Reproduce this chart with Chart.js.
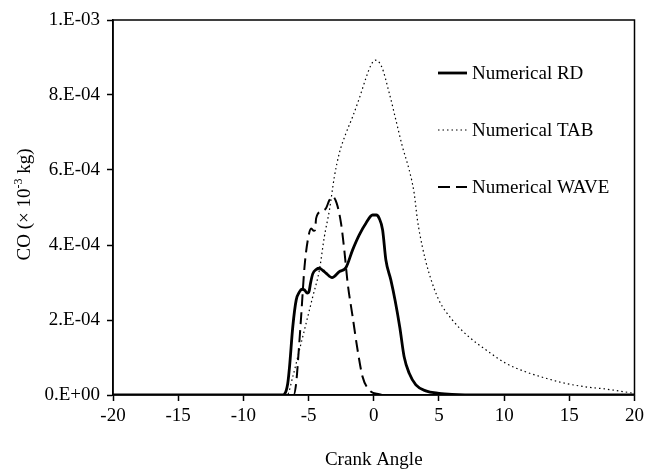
<!DOCTYPE html>
<html>
<head>
<meta charset="utf-8">
<script src="https://cdn.jsdelivr.net/npm/chart.js@4.4.1/dist/chart.umd.min.js"></script>
<style>
  html, body { margin: 0; padding: 0; background: #fff; }
  #wrap { width: 648px; height: 470px; position: relative; }
</style>
</head>
<body>
<div id="wrap"><canvas id="coChart"></canvas></div>
<script>
// ---- data (CO mass, kg, vs crank angle) ----
const rdAngle = [-20, -7, -6.85, -6.6, -6.46, -6.21, -5.95, -5.7, -5.5, -5.31, -5.1, -4.95, -4.85, -4.68, -4.4, -4.17, -3.9, -3.66, -3.2, -2.64, -2.13, -1.62, -1.11, -0.6, -0.09, 0.2, 0.42, 0.68, 0.93, 1.31, 1.65, 2.0, 2.33, 2.72, 3.23, 3.99, 5, 6, 7, 20];
const rdCO = [0, 0, 0.02e-4, 0.3e-4, 0.75e-4, 1.82e-4, 2.53e-4, 2.75e-4, 2.82e-4, 2.8e-4, 2.72e-4, 2.78e-4, 2.98e-4, 3.23e-4, 3.35e-4, 3.38e-4, 3.32e-4, 3.25e-4, 3.13e-4, 3.29e-4, 3.4e-4, 3.87e-4, 4.27e-4, 4.58e-4, 4.8e-4, 4.8e-4, 4.71e-4, 4.4e-4, 3.6e-4, 3.07e-4, 2.5e-4, 1.8e-4, 1.02e-4, 0.58e-4, 0.27e-4, 0.11e-4, 0.045e-4, 0.015e-4, 0.005e-4, 0];

const tabAngle = [-20, -6.65, -6.21, -5.7, -5.19, -4.68, -4.17, -3.79, -3.4, -3.02, -2.64, -2.13, -1.62, -1.11, -0.6, -0.21, 0.11, 0.6, 1.19, 1.7, 2.2, 2.72, 3.1, 3.35, 3.73, 4.24, 5.0, 6.03, 7.3, 8.7, 10.1, 11.64, 13.17, 14.7, 16.2, 17.76, 19.67, 20];
const tabCO = [0, 0, 0.49e-4, 1.2e-4, 1.91e-4, 2.62e-4, 3.33e-4, 4.22e-4, 4.93e-4, 5.82e-4, 6.45e-4, 6.98e-4, 7.42e-4, 7.91e-4, 8.45e-4, 8.8e-4, 8.93e-4, 8.76e-4, 8.05e-4, 7.33e-4, 6.62e-4, 6.0e-4, 5.38e-4, 4.67e-4, 3.95e-4, 3.25e-4, 2.53e-4, 2.0e-4, 1.55e-4, 1.18e-4, 0.85e-4, 0.62e-4, 0.45e-4, 0.31e-4, 0.22e-4, 0.16e-4, 0.06e-4, 0.04e-4];

const waveAngle = [-20, -6.15, -5.95, -5.75, -5.57, -5.31, -5.06, -4.8, -4.6, -4.5, -4.42, -4.04, -3.66, -3.4, -3.15, -2.84, -2.51, -2.26, -2.0, -1.62, -1.24, -0.86, -0.34, 0.42, 1, 20];
const waveCO = [0, 0, 0.32e-4, 1.2e-4, 2.09e-4, 3.42e-4, 4.13e-4, 4.44e-4, 4.38e-4, 4.4e-4, 4.71e-4, 4.89e-4, 4.98e-4, 5.2e-4, 5.29e-4, 5.11e-4, 4.58e-4, 3.87e-4, 2.98e-4, 2.09e-4, 1.2e-4, 0.49e-4, 0.13e-4, 0.02e-4, 0, 0];

const seriesNames = ['Numerical RD', 'Numerical TAB', 'Numerical WAVE'];
const xTicks = [-20, -15, -10, -5, 0, 5, 10, 15, 20];
const yTickLabels = ['0.E+00', '2.E-04', '4.E-04', '6.E-04', '8.E-04', '1.E-03'];

const FONT = '"Liberation Serif", "Times New Roman", serif';
const FS = 19;

function pts(xs, ys) {
    return xs.map((x, i) => ({ x: x, y: ys[i] }));
}

// frame, axis titles and the in-plot legend
const decorPlugin = {
    id: 'decor',
    afterDraw(chart) {
        const ctx = chart.ctx;
        const a = chart.chartArea;
        ctx.save();
        ctx.strokeStyle = '#000';
        ctx.lineWidth = 1.5;
        ctx.strokeRect(a.left, a.top, a.right - a.left, a.bottom - a.top);

        ctx.fillStyle = '#000';
        ctx.font = FS + 'px ' + FONT;
        ctx.textBaseline = 'middle';
        ctx.textAlign = 'center';
        ctx.fillText('Crank Angle', (a.left + a.right) / 2, 460);

        // y title with superscript
        ctx.save();
        ctx.translate(25, (a.top + a.bottom) / 2 - 3);
        ctx.rotate(-Math.PI / 2);
        const p1 = 'CO (\u00d7 10', sup = '-3', p2 = ' kg)';
        const supFont = Math.round(FS * 0.65) + 'px ' + FONT;
        ctx.font = FS + 'px ' + FONT;
        const w1 = ctx.measureText(p1).width, w3 = ctx.measureText(p2).width;
        ctx.font = supFont;
        const w2 = ctx.measureText(sup).width;
        let x0 = -(w1 + w2 + w3) / 2;
        ctx.textAlign = 'left';
        ctx.font = FS + 'px ' + FONT;
        ctx.fillText(p1, x0, 0);
        ctx.font = supFont;
        ctx.fillText(sup, x0 + w1, -6);
        ctx.font = FS + 'px ' + FONT;
        ctx.fillText(p2, x0 + w1 + w2, 0);
        ctx.restore();

        // legend
        const lx = 438, lw = 29, ly = [73, 130, 187];
        chart.data.datasets.forEach((ds, i) => {
            ctx.save();
            ctx.strokeStyle = '#000';
            ctx.lineWidth = ds.borderWidth;
            ctx.setLineDash(ds.borderDash || []);
            ctx.beginPath();
            ctx.moveTo(lx, ly[i]);
            ctx.lineTo(lx + lw, ly[i]);
            ctx.stroke();
            ctx.restore();
            ctx.textAlign = 'left';
            ctx.font = FS + 'px ' + FONT;
            ctx.fillText(ds.label, lx + lw + 5, ly[i] + 1);
        });
        ctx.restore();
    }
};

new Chart(document.getElementById('coChart'), {
    type: 'line',
    data: {
        datasets: [
            {
                label: seriesNames[0],
                data: pts(rdAngle, rdCO),
                borderColor: '#000',
                borderWidth: 2.8,
                pointRadius: 0,
                cubicInterpolationMode: 'monotone'
            },
            {
                label: seriesNames[1],
                data: pts(tabAngle, tabCO),
                borderColor: '#000',
                borderWidth: 1.2,
                borderDash: [1.5, 3],
                pointRadius: 0,
                cubicInterpolationMode: 'monotone'
            },
            {
                label: seriesNames[2],
                data: pts(waveAngle, waveCO),
                borderColor: '#000',
                borderWidth: 2,
                borderDash: [12, 6],
                pointRadius: 0,
                cubicInterpolationMode: 'monotone'
            }
        ]
    },
    options: {
        responsive: true,
        maintainAspectRatio: false,
        animation: false,
        layout: { padding: { top: 20, right: 12, left: 0, bottom: 0 } },
        plugins: {
            legend: { display: false },
            tooltip: { enabled: false }
        },
        scales: {
            x: {
                type: 'linear',
                min: -20,
                max: 20,
                afterFit: s => { s.height = 75; },
                afterBuildTicks: s => { s.ticks = xTicks.map(v => ({ value: v })); },
                grid: {
                    drawOnChartArea: false,
                    drawTicks: true,
                    tickLength: 6,
                    tickColor: '#000',
                    tickWidth: 1.5
                },
                border: { color: '#000', width: 1.5 },
                ticks: {
                    color: '#000',
                    font: { family: FONT, size: FS },
                    padding: 4,
                    maxRotation: 0
                }
            },
            y: {
                min: 0,
                max: 1e-3,
                afterFit: s => { s.width = 113; },
                afterBuildTicks: s => { s.ticks = yTickLabels.map((t, i) => ({ value: i * 2e-4 })); },
                grid: {
                    drawOnChartArea: false,
                    drawTicks: true,
                    tickLength: 6,
                    tickColor: '#000',
                    tickWidth: 1.5
                },
                border: { color: '#000', width: 1.5 },
                ticks: {
                    color: '#000',
                    font: { family: FONT, size: FS },
                    padding: 7,
                    callback: (v, i) => yTickLabels[i]
                }
            }
        }
    },
    plugins: [decorPlugin]
});
</script>
</body>
</html>
